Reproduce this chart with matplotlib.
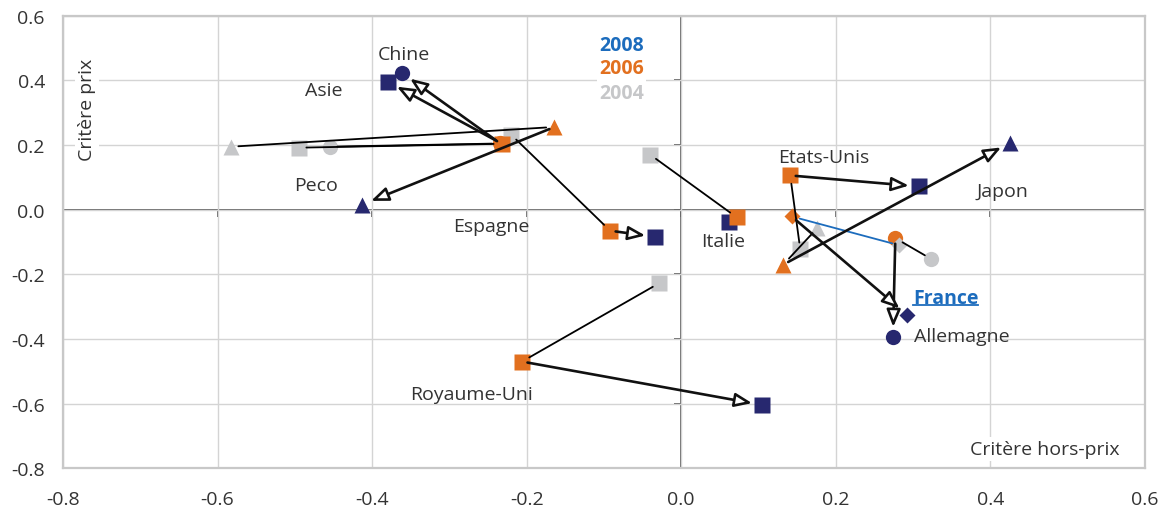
import matplotlib
matplotlib.use("Agg")
import matplotlib.pyplot as plt
import numpy as np

plt.rcParams["font.family"] = ["Open Sans", "DejaVu Sans"]
plt.rcParams["axes.unicode_minus"] = False

# Data: position of each country on the two criteria, per year
countries = ["Espagne", "Italie", "Asie", "Chine", "Peco", "Royaume-Uni",
             "Etats-Unis", "Japon", "Allemagne", "France"]
markers = ["s", "s", "s", "o", "^", "s", "s", "^", "o", "D"]

x2004 = [-0.220, -0.040, -0.494, -0.454, -0.582, -0.029, 0.154, 0.176, 0.323, 0.282]
y2004 = [0.232, 0.170, 0.192, 0.195, 0.195, -0.228, -0.123, -0.057, -0.152, -0.110]
x2006 = [-0.092, 0.072, -0.232, -0.234, -0.164, -0.206, 0.141, 0.132, 0.277, 0.143]
y2006 = [-0.065, -0.024, 0.204, 0.205, 0.256, -0.470, 0.106, -0.170, -0.088, -0.021]
x2008 = [-0.034, 0.062, -0.379, -0.361, -0.413, 0.104, 0.307, 0.425, 0.274, 0.292]
y2008 = [-0.084, -0.038, 0.395, 0.423, 0.016, -0.604, 0.072, 0.207, -0.393, -0.325]

years = ["2008", "2006", "2004"]

# Label placement (layout only)
label_pos = {
    "Chine": (-0.359, 0.483), "Asie": (-0.462, 0.371), "Peco": (-0.472, 0.077),
    "Espagne": (-0.246, -0.050), "Italie": (0.054, -0.098),
    "Etats-Unis": (0.184, 0.164), "Japon": (0.416, 0.057),
    "France": (0.342, -0.272), "Allemagne": (0.363, -0.392),
    "Royaume-Uni": (-0.272, -0.570),
}

C_NAVY = "#27286f"
C_ORANGE = "#e2701f"
C_GRAY = "#c6c7c9"
C_BLUE = "#1c6cbd"
C_TEXT = "#333333"
FS = 14

fig = plt.figure(figsize=(11.7, 5.1), dpi=100)
ax = fig.add_axes([0.0538, 0.080, 0.9248, 0.887])
ax.set_xlim(-0.8, 0.6)
ax.set_ylim(-0.8, 0.6)
ticks_x = np.round(np.arange(-0.8, 0.61, 0.2), 1)
ticks_y = np.round(np.arange(-0.8, 0.61, 0.2), 1)
ax.set_xticks(ticks_x)
ax.set_yticks(ticks_y)
fmt = matplotlib.ticker.FuncFormatter(lambda v, p: f"{round(v, 1) + 0.0:.1f}")
ax.xaxis.set_major_formatter(fmt)
ax.yaxis.set_major_formatter(fmt)
ax.tick_params(length=0, labelsize=FS, labelcolor=C_TEXT)
ax.tick_params(axis="x", pad=16)
ax.tick_params(axis="y", pad=13)
ax.grid(True, color="#d4d4d4", lw=1.0, zorder=0)
for s in ax.spines.values():
    s.set_color("#c8c8c8"); s.set_linewidth(1.6)

ax.axhline(0, color="#4a4a4a", lw=1.2, zorder=1)
ax.axvline(0, color="#4a4a4a", lw=1.2, zorder=1)
ax.plot(ticks_x, np.zeros_like(ticks_x), ls="none", marker=3, ms=5,
        mew=1.2, color="#4a4a4a", zorder=1, clip_on=False)
ax.plot(np.zeros_like(ticks_y), ticks_y, ls="none", marker=0, ms=5,
        mew=1.2, color="#4a4a4a", zorder=1, clip_on=False)

# markers
z = 3
for i, c in enumerate(countries):
    m = markers[i]
    ms = 8 if m == "D" else (11 if m == "o" else 11.5)
    for xs, ys, col in ((x2004, y2004, C_GRAY), (x2008, y2008, C_NAVY),
                        (x2006, y2006, C_ORANGE)):
        ax.plot(xs[i], ys[i], marker=m, ms=ms, color=col, mec="none",
                ls="none", zorder=z)
        z += 0.01

# 2004 -> 2006 : plain lines ; 2006 -> 2008 : arrows
for i, c in enumerate(countries):
    col = C_BLUE if c == "France" else "black"
    ax.annotate("", xy=(x2006[i], y2006[i]), xytext=(x2004[i], y2004[i]),
                arrowprops=dict(arrowstyle="-", color=col, lw=1.3,
                                shrinkA=5, shrinkB=6), zorder=4)
    p0 = ax.transData.transform((x2006[i], y2006[i]))
    p1 = ax.transData.transform((x2008[i], y2008[i]))
    if np.hypot(*(p1 - p0)) < 25:   # too short to show (Italie)
        continue
    ax.annotate("", xy=(x2008[i], y2008[i]), xytext=(x2006[i], y2006[i]),
                arrowprops=dict(arrowstyle="-|>,head_length=0.55,head_width=0.22",
                                mutation_scale=19, fc="white", ec="#111111",
                                lw=1.9, shrinkA=4, shrinkB=7), zorder=5)

for c, (lx, ly) in label_pos.items():
    if c == "France":
        continue
    ax.text(lx, ly, c, ha="center", va="center", fontsize=FS,
            color=C_TEXT, zorder=6)

fr = ax.text(*label_pos["France"], "France", ha="center", va="center",
             fontsize=FS, color=C_BLUE, fontweight="bold", zorder=6)

ax.text(0.471, -0.74, "Critère hors-prix", ha="center", va="center",
        fontsize=FS, color=C_TEXT, zorder=6,
        bbox=dict(fc="white", ec="none", pad=2))
ax.text(-0.769, 0.313, "Critère prix", ha="center", va="center",
        rotation=90, fontsize=FS, color=C_TEXT, zorder=6,
        bbox=dict(fc="white", ec="none", pad=2))

for yr, col, ly in zip(years, (C_BLUE, C_ORANGE, C_GRAY), (0.51, 0.437, 0.36)):
    ax.text(-0.077, ly, yr, ha="center", va="center", fontsize=FS,
            fontweight="bold", color=col, zorder=6,
            bbox=dict(fc="white", ec="none", pad=1.5))

# underline France
fig.canvas.draw()
bb = fr.get_window_extent(renderer=fig.canvas.get_renderer())
inv = ax.transData.inverted()
(x0, y0), (x1, _) = inv.transform([(bb.x0, bb.y0 + 3), (bb.x1, bb.y0 + 3)])
ax.plot([x0, x1], [y0, y0], color=C_BLUE, lw=1.3, zorder=6)

fig.savefig("out.png", dpi=100, facecolor="white")
